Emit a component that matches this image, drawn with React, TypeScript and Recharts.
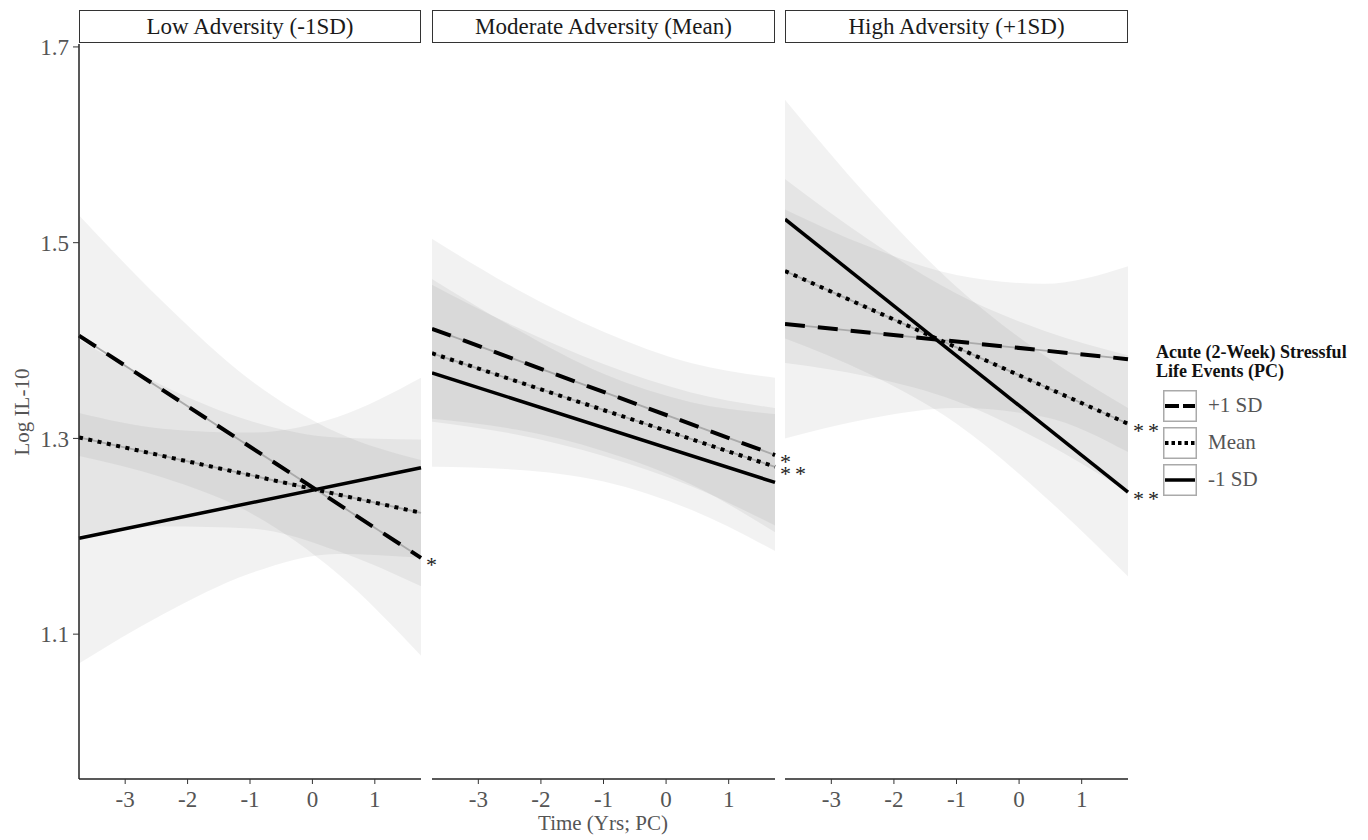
import React from 'react';
import { ComposedChart, Area, Line, XAxis, YAxis } from 'recharts';

// facet strips
const panelTitles = ['Low Adversity (-1SD)', 'Moderate Adversity (Mean)', 'High Adversity (+1SD)'];

const timeDomain: [number, number] = [-3.74, 1.74];
const xTicks = [-3, -2, -1, 0, 1];
const yDomain: [number, number] = [0.952, 1.703];
const yTicks = [1.1, 1.3, 1.5, 1.7];

// fitted lines: value at start / end of time range, one pair per panel
const plusSdEnds = [[1.405, 1.178], [1.412, 1.283], [1.417, 1.381]];
const meanEnds = [[1.301, 1.224], [1.387, 1.271], [1.471, 1.315]];
const minusSdEnds = [[1.198, 1.27], [1.367, 1.255], [1.524, 1.245]];

// confidence ribbons, read at these times
const bandTimes = [-3.74, -2.4, -1.0, 0.4, 1.74];
const plusSdLow = [
  [1.282, 1.26, 1.224, 1.162, 1.078],
  [1.32, 1.309, 1.287, 1.253, 1.204],
  [1.3, 1.32, 1.331, 1.322, 1.286],
];
const plusSdHigh = [
  [1.528, 1.44, 1.36, 1.306, 1.278],
  [1.504, 1.453, 1.409, 1.377, 1.362],
  [1.534, 1.496, 1.467, 1.458, 1.476],
];
const meanLow = [
  [1.201, 1.21, 1.208, 1.185, 1.149],
  [1.317, 1.304, 1.282, 1.251, 1.211],
  [1.377, 1.363, 1.338, 1.296, 1.245],
];
const meanHigh = [
  [1.401, 1.354, 1.318, 1.301, 1.299],
  [1.457, 1.414, 1.376, 1.347, 1.331],
  [1.565, 1.503, 1.448, 1.41, 1.385],
];
const minusSdLow = [
  [1.07, 1.12, 1.162, 1.182, 1.178],
  [1.271, 1.268, 1.256, 1.227, 1.185],
  [1.402, 1.366, 1.315, 1.241, 1.159],
];
const minusSdHigh = [
  [1.326, 1.31, 1.306, 1.322, 1.362],
  [1.463, 1.412, 1.366, 1.337, 1.325],
  [1.646, 1.546, 1.455, 1.385, 1.331],
];

// significance marks at the line ends
const plusSdStars = ['*', '*', ''];
const meanStars = ['', '**', '**'];
const minusSdStars = ['', '', '**'];

const series = [
  { key: 'plus', name: '+1 SD', ends: plusSdEnds, low: plusSdLow, high: plusSdHigh, stars: plusSdStars, dash: '20 13', keyDash: '14 4', width: 4, guide: true },
  { key: 'mean', name: 'Mean', ends: meanEnds, low: meanLow, high: meanHigh, stars: meanStars, dash: '4 5.5', keyDash: '3.5 3', width: 4, guide: true },
  { key: 'minus', name: '-1 SD', ends: minusSdEnds, low: minusSdLow, high: minusSdHigh, stars: minusSdStars, dash: undefined, keyDash: undefined, width: 3.5, guide: false },
];

const font = "'Liberation Serif', 'Times New Roman', serif";
const PLOT_TOP = 44;
const PLOT_H = 735;
const AXIS_H = 40;

const chartLeft = [0, 432, 785];
const yAxisWidth = [79, 0, 0];
const plotWidth = [342, 343, 343];
const rightMargin = [20, 40, 45];

const Panel: React.FC<{ idx: number }> = ({ idx }) => {
  const width = yAxisWidth[idx] + plotWidth[idx] + rightMargin[idx];
  return (
    <div style={{ position: 'absolute', left: chartLeft[idx], top: 0 }}>
      <ComposedChart
        width={width}
        height={PLOT_TOP + PLOT_H + AXIS_H}
        margin={{ top: PLOT_TOP, right: rightMargin[idx], bottom: 0, left: 0 }}
      >
        <XAxis
          type="number"
          dataKey="x"
          domain={timeDomain}
          ticks={xTicks}
          height={AXIS_H}
          tickSize={5}
          tickMargin={7}
          axisLine={{ stroke: '#222', strokeWidth: 1.5 }}
          tickLine={{ stroke: '#333' }}
          tick={{ fill: '#555', fontSize: 23, fontFamily: font }}
        />
        <YAxis
          type="number"
          domain={yDomain}
          ticks={yTicks}
          hide={idx !== 0}
          width={yAxisWidth[idx]}
          tickSize={6}
          tickMargin={4}
          axisLine={{ stroke: '#222', strokeWidth: 1.5 }}
          tickLine={{ stroke: '#333' }}
          tick={{ fill: '#555', fontSize: 23, fontFamily: font }}
        />
        {series.map((s) => (
          <Area
            key={`band-${s.key}`}
            data={bandTimes.map((t, i) => ({ x: t, range: [s.low[idx][i], s.high[idx][i]] }))}
            dataKey="range"
            type="monotone"
            stroke="none"
            fill="#000"
            fillOpacity={0.05}
            isAnimationActive={false}
          />
        ))}
        {series
          .filter((s) => s.guide)
          .map((s) => (
            <Line
              key={`guide-${s.key}`}
              data={[{ x: timeDomain[0], y: s.ends[idx][0] }, { x: timeDomain[1], y: s.ends[idx][1] }]}
              dataKey="y"
              type="linear"
              stroke="#aaa"
              strokeWidth={1.8}
              dot={false}
              isAnimationActive={false}
            />
          ))}
        {series.map((s) => (
          <Line
            key={`line-${s.key}`}
            data={[{ x: timeDomain[0], y: s.ends[idx][0] }, { x: timeDomain[1], y: s.ends[idx][1] }]}
            dataKey="y"
            type="linear"
            stroke="#000"
            strokeWidth={s.width}
            strokeDasharray={s.dash}
            isAnimationActive={false}
            dot={(p: any) =>
              p.index === 1 && s.stars[idx] ? (
                <text
                  key={`star-${s.key}`}
                  x={p.cx + 5}
                  y={p.cy + 14}
                  fontSize={22}
                  letterSpacing={4}
                  fontFamily={font}
                  fill="#222"
                >
                  {s.stars[idx]}
                </text>
              ) : (
                <g key={`nostar-${s.key}-${p.index}`} />
              )
            }
          />
        ))}
      </ComposedChart>
    </div>
  );
};

const Strip: React.FC<{ idx: number }> = ({ idx }) => (
  <div
    style={{
      position: 'absolute',
      left: chartLeft[idx] + yAxisWidth[idx],
      top: 10,
      width: plotWidth[idx],
      height: 33,
      boxSizing: 'border-box',
      border: '1.5px solid #333',
      display: 'flex',
      alignItems: 'center',
      justifyContent: 'center',
      fontSize: 23,
      color: '#1a1a1a',
      fontFamily: font,
    }}
  >
    {panelTitles[idx]}
  </div>
);

const LegendBox: React.FC = () => (
  <div style={{ position: 'absolute', left: 1156, top: 343, fontFamily: font }}>
    <div style={{ fontWeight: 'bold', fontSize: 18, lineHeight: '19px', color: '#111' }}>
      Acute (2-Week) Stressful
      <br />
      Life Events (PC)
    </div>
    <div style={{ marginTop: 6 }}>
      {series.map((s) => (
        <div key={s.key} style={{ display: 'flex', alignItems: 'center', height: 37, marginLeft: 7 }}>
          <svg width={34} height={32}>
            <rect x={0.75} y={0.75} width={32.5} height={30.5} fill="#fff" stroke="#aaa" strokeWidth={1.5} />
            <line x1={2} y1={16} x2={32} y2={16} stroke="#000" strokeWidth={s.width} strokeDasharray={s.keyDash} />
          </svg>
          <span style={{ marginLeft: 11, fontSize: 21, color: '#555' }}>{s.name}</span>
        </div>
      ))}
    </div>
  </div>
);

export default function App() {
  return (
    <div
      style={{
        position: 'absolute',
        left: 0,
        top: 0,
        width: 1368,
        height: 840,
        background: '#fff',
        fontFamily: font,
        overflow: 'hidden',
      }}
    >
      {[0, 1, 2].map((i) => (
        <Panel key={`p${i}`} idx={i} />
      ))}
      {[0, 1, 2].map((i) => (
        <Strip key={`s${i}`} idx={i} />
      ))}
      <div
        style={{
          position: 'absolute',
          left: 22,
          top: 412,
          transform: 'translate(-50%, -50%) rotate(-90deg)',
          fontSize: 21,
          color: '#555',
          whiteSpace: 'nowrap',
        }}
      >
        Log IL-10
      </div>
      <div
        style={{
          position: 'absolute',
          left: 603,
          top: 823,
          transform: 'translate(-50%, -50%)',
          fontSize: 21,
          color: '#555',
          whiteSpace: 'nowrap',
        }}
      >
        Time (Yrs; PC)
      </div>
      <LegendBox />
    </div>
  );
}
